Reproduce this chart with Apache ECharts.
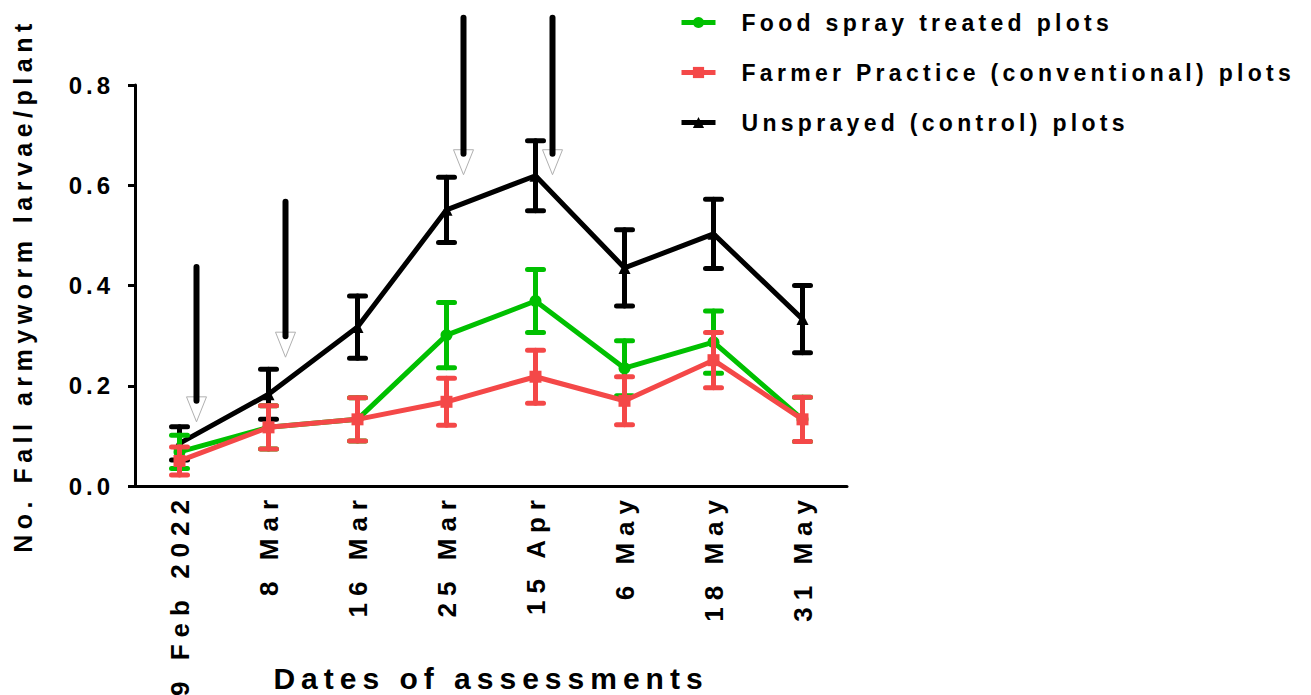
<!DOCTYPE html>
<html><head><meta charset="utf-8">
<script src="https://cdn.jsdelivr.net/npm/echarts@6/dist/echarts.min.js"></script>
<style>html,body{margin:0;padding:0;background:#fff}#c{width:1311px;height:695px}</style>
</head><body><div id="c"></div>
<script>
const categories = ['9 Feb 2022','8 Mar','16 Mar','25 Mar','15 Apr','6 May','18 May','31 May'];
const foodMean   = [0.068,0.117,0.133,0.301,0.369,0.235,0.287,0.133];
const foodErr    = [0.033,0.043,0.043,0.065,0.063,0.055,0.062,0.044];
const farmerMean = [0.050,0.117,0.133,0.168,0.218,0.170,0.251,0.133];
const farmerErr  = [0.028,0.043,0.043,0.047,0.053,0.048,0.055,0.044];
const controlMean= [0.085,0.183,0.317,0.551,0.619,0.435,0.503,0.333];
const controlErr = [0.033,0.050,0.062,0.065,0.070,0.076,0.069,0.067];
const arrowCat   = [0,1,3,4];
const arrowTop   = [0.437,0.567,0.934,0.934];
const arrowTip   = [0.128,0.257,0.621,0.621];

const GREEN='#00c000', RED='#f44848', BLACK='#000000';
const FONT='"Liberation Sans", Arial, sans-serif';
// letter spacing (px) keyed by font size, emulating the spaced lettering of the original
const SPACING={'23px':'4.3px','24px':'4px','25px':'5.5px','26px':'7px','30px':'6px'};

function errData(m,e){return m.map((v,i)=>[i,v-e[i],v+e[i]]);}
function errRender(color){
  return function(params, api){
    const lo=api.coord([api.value(0),api.value(1)]);
    const hi=api.coord([api.value(0),api.value(2)]);
    const w=8;
    const st={stroke:color,lineWidth:5,lineCap:'round'};
    return {type:'group',children:[
      {type:'line',shape:{x1:lo[0],y1:lo[1],x2:hi[0],y2:hi[1]},style:st},
      {type:'line',shape:{x1:lo[0]-w,y1:lo[1],x2:lo[0]+w,y2:lo[1]},style:st},
      {type:'line',shape:{x1:hi[0]-w,y1:hi[1],x2:hi[0]+w,y2:hi[1]},style:st}
    ]};
  };
}
function arrowRender(params, api){
  const t=api.coord([api.value(0),api.value(1)]);
  const p=api.coord([api.value(0),api.value(2)]);
  const x=t[0]+17, head=25, hw=10;
  return {type:'group',children:[
    {type:'polygon',shape:{points:[[x-hw,p[1]-head],[x+hw,p[1]-head],[x,p[1]]]},style:{fill:'#fff',stroke:'#b0b0b0',lineWidth:1}},
    {type:'line',shape:{x1:x,y1:t[1],x2:x,y2:p[1]-head+4},style:{stroke:'#000',lineWidth:6,lineCap:'round'}}
  ]};
}
function lineSeries(name,data,color,symbol,z){
  return {name:name,type:'line',data:data,z:z,symbol:symbol,symbolSize:12,showSymbol:true,
    lineStyle:{color:color,width:5},itemStyle:{color:color},emphasis:{disabled:true},animation:false};
}
function errSeries(m,e,color,z){
  return {type:'custom',data:errData(m,e),renderItem:errRender(color),z:z,clip:false,
    encode:{x:0,y:[1,2]},silent:true,animation:false};
}

const chart=echarts.init(document.getElementById('c'),null,{renderer:'svg'});
chart.setOption({
  backgroundColor:'#fff',
  animation:false,
  textStyle:{fontFamily:FONT},
  grid:{left:135,top:85,width:712,height:401,containLabel:false,outerBoundsMode:'none'},
  legend:{
    orient:'vertical',left:674,top:6,itemGap:27,itemWidth:34,itemHeight:14,
    lineStyle:{width:5},
    data:['Food spray treated plots','Farmer Practice (conventional) plots','Unsprayed (control) plots'],
    textStyle:{fontFamily:FONT,fontWeight:'bold',fontSize:23,color:'#000',padding:[0,0,0,21]}
  },
  xAxis:{
    type:'category',data:categories,boundaryGap:true,
    axisLine:{lineStyle:{color:'#000',width:3}},
    axisTick:{alignWithLabel:true,length:7,lineStyle:{color:'#000',width:3}},
    axisLabel:{rotate:90,margin:7,color:'#000',fontWeight:'bold',fontSize:26,fontFamily:FONT,interval:0},
    name:'Dates of assessments',nameLocation:'middle',nameGap:177,
    nameTextStyle:{color:'#000',fontWeight:'bold',fontSize:30,fontFamily:FONT}
  },
  yAxis:{
    type:'value',min:0,max:0.8,interval:0.2,
    axisLine:{show:true,lineStyle:{color:'#000',width:3}},
    axisTick:{show:true,length:7,lineStyle:{color:'#000',width:3}},
    splitLine:{show:false},
    axisLabel:{margin:21,color:'#000',fontWeight:'bold',fontSize:24,fontFamily:FONT,formatter:v=>v.toFixed(1)},
    name:'No. Fall armyworm larvae/plant',nameLocation:'middle',nameGap:100,nameRotate:90,
    nameTextStyle:{color:'#000',fontWeight:'bold',fontSize:25,fontFamily:FONT}
  },
  series:[
    errSeries(controlMean,controlErr,BLACK,2),
    lineSeries('Unsprayed (control) plots',controlMean,BLACK,'triangle',3),
    errSeries(foodMean,foodErr,GREEN,4),
    lineSeries('Food spray treated plots',foodMean,GREEN,'circle',5),
    errSeries(farmerMean,farmerErr,RED,6),
    lineSeries('Farmer Practice (conventional) plots',farmerMean,RED,'rect',7),
    {type:'custom',data:arrowCat.map((c,i)=>[c,arrowTop[i],arrowTip[i]]),renderItem:arrowRender,
     z:10,clip:false,silent:true,animation:false,encode:{x:0,y:[1,2]}}
  ]
});
function applySpacing(){
  document.querySelectorAll('#c svg text').forEach(function(t){
    const fs=getComputedStyle(t).fontSize;
    if(SPACING[fs]) t.style.letterSpacing=SPACING[fs];
  });
}
applySpacing();
chart.on('finished',applySpacing);
setTimeout(applySpacing,0);
</script></body></html>
